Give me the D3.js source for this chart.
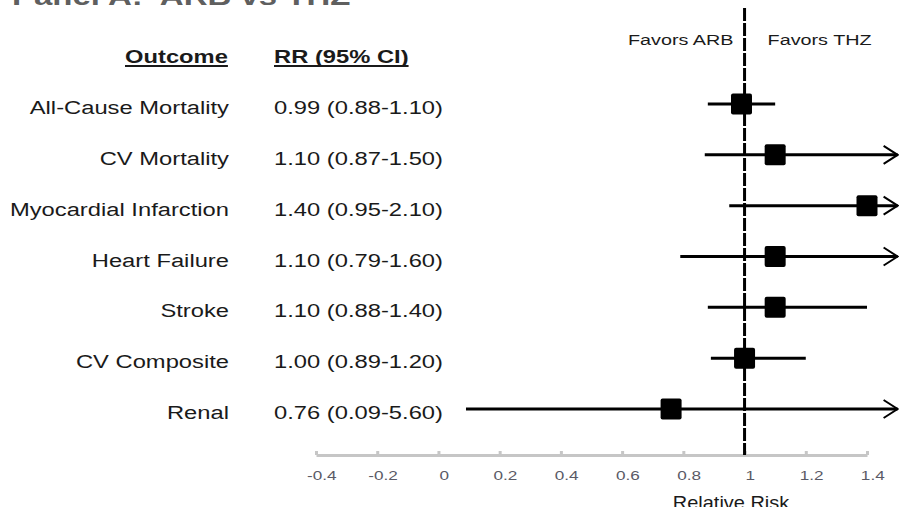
<!DOCTYPE html>
<html>
<head>
<meta charset="utf-8">
<script src="https://cdn.jsdelivr.net/npm/d3@7"></script>
<style>
  html, body { margin: 0; padding: 0; background: #ffffff; }
  svg { display: block; font-family: Arial, "Liberation Sans", sans-serif; }
</style>
</head>
<body>
<svg id="chart" width="899" height="507"></svg>
<script>
// Forest plot: relative risk of ARB vs thiazide, by outcome
const outcomes = ["All-Cause Mortality", "CV Mortality", "Myocardial Infarction", "Heart Failure", "Stroke", "CV Composite", "Renal"];
const rr      = [0.99, 1.10, 1.40, 1.10, 1.10, 1.00, 0.76];
const ciLow   = [0.88, 0.87, 0.95, 0.79, 0.88, 0.89, 0.09];
const ciHigh  = [1.10, 1.50, 2.10, 1.60, 1.40, 1.20, 5.60];
const tickValues = [-0.4, -0.2, 0, 0.2, 0.4, 0.6, 0.8, 1, 1.2, 1.4];

const rows = outcomes.map((o, i) => ({ outcome: o, rr: rr[i], lo: ciLow[i], hi: ciHigh[i] }));

const svg = d3.select("#chart");
const stretch = 1.32;          // text is drawn slightly widened
const textColor = "#1a1a1a";
const fmt = d3.format(".2f");

const x = d3.scaleLinear().domain([-0.4, 1.4]).range([316, 867]);
const clipMax = 1.5;           // intervals reaching past this end in an arrow
const y = d3.scalePoint().domain(outcomes).range([104, 409]);
const axisY = 455;

// helper: text placed at (px, py) and widened horizontally
function label(px, py, str, opts) {
  return svg.append("text")
    .attr("transform", `translate(${px},${py}) scale(${opts.stretch || stretch},1)`)
    .attr("text-anchor", opts.anchor || "start")
    .attr("font-size", opts.size)
    .attr("font-weight", opts.weight || "normal")
    .attr("fill", opts.color || textColor)
    .style("white-space", "pre")
    .text(str);
}

// Title (runs off the top edge)
label(12, 5, "Panel A:  ARB vs THZ", { size: 25, weight: "bold", color: "#5f5f5f" });

// Column headers, underlined
[[125, "Outcome"], [274, "RR (95% CI)"]].forEach(([hx, str]) => {
  const h = label(hx, 63, str, { size: 18, weight: "bold" });
  const w = h.node().getComputedTextLength() * stretch;
  svg.append("line")
    .attr("x1", hx).attr("x2", hx + w)
    .attr("y1", 66).attr("y2", 66)
    .attr("stroke", textColor).attr("stroke-width", 2);
});

// Favors labels
label(x(1) - 11, 45, "Favors ARB", { size: 15, anchor: "end" });
label(x(1) + 23, 45, "Favors THZ", { size: 15 });

// Row labels and estimates
rows.forEach(d => {
  label(229, y(d.outcome) + 10, d.outcome, { size: 18, anchor: "end" });
  label(274, y(d.outcome) + 10, `${fmt(d.rr)} (${fmt(d.lo)}-${fmt(d.hi)})`, { size: 18 });
});

// Axis
const axis = d3.axisBottom(x)
  .tickValues(tickValues)
  .tickSizeInner(-4)
  .tickSizeOuter(0)
  .tickPadding(0)
  .tickFormat(d => String(d));

const gAxis = svg.append("g")
  .attr("transform", `translate(0,${axisY})`)
  .call(axis);
gAxis.select(".domain").attr("stroke", "#c6c6c6").attr("stroke-width", 3);
gAxis.selectAll(".tick line").attr("stroke", "#c6c6c6").attr("stroke-width", 3);
gAxis.selectAll(".tick text")
  .attr("x", 4)
  .attr("y", 25)
  .attr("dy", null)
  .attr("font-size", 13)
  .attr("font-family", "Arial, 'Liberation Sans', sans-serif")
  .attr("fill", "#5a5a66")
  .attr("transform", `scale(${stretch},1)`);

label(731, 509, "Relative Risk", { size: 19, anchor: "middle", stretch: 1.05 });

// Line of no effect
svg.append("line")
  .attr("x1", x(1)).attr("x2", x(1))
  .attr("y1", 8).attr("y2", axisY)
  .attr("stroke", "#000").attr("stroke-width", 3)
  .attr("stroke-dasharray", "13,2");

// Confidence intervals
const gRows = svg.append("g");
gRows.selectAll("line.ci")
  .data(rows)
  .join("line")
  .attr("class", "ci")
  .attr("x1", d => x(d.lo))
  .attr("x2", d => x(Math.min(d.hi, clipMax)))
  .attr("y1", d => y(d.outcome))
  .attr("y2", d => y(d.outcome))
  .attr("stroke", "#000")
  .attr("stroke-width", 3);

// Arrows for intervals that extend past the plotted range
gRows.selectAll("path.arrow")
  .data(rows.filter(d => d.hi >= clipMax))
  .join("path")
  .attr("class", "arrow")
  .attr("d", d => {
    const tx = x(clipMax), ty = y(d.outcome);
    return `M${tx - 14},${ty - 9}L${tx},${ty}L${tx - 14},${ty + 9}`;
  })
  .attr("fill", "none")
  .attr("stroke", "#000")
  .attr("stroke-width", 2);

// Point estimates
const sq = 21;
gRows.selectAll("rect.est")
  .data(rows)
  .join("rect")
  .attr("class", "est")
  .attr("x", d => x(d.rr) - sq / 2)
  .attr("y", d => y(d.outcome) - sq / 2)
  .attr("width", sq)
  .attr("height", sq)
  .attr("rx", 2)
  .attr("fill", "#000");
</script>
</body>
</html>
